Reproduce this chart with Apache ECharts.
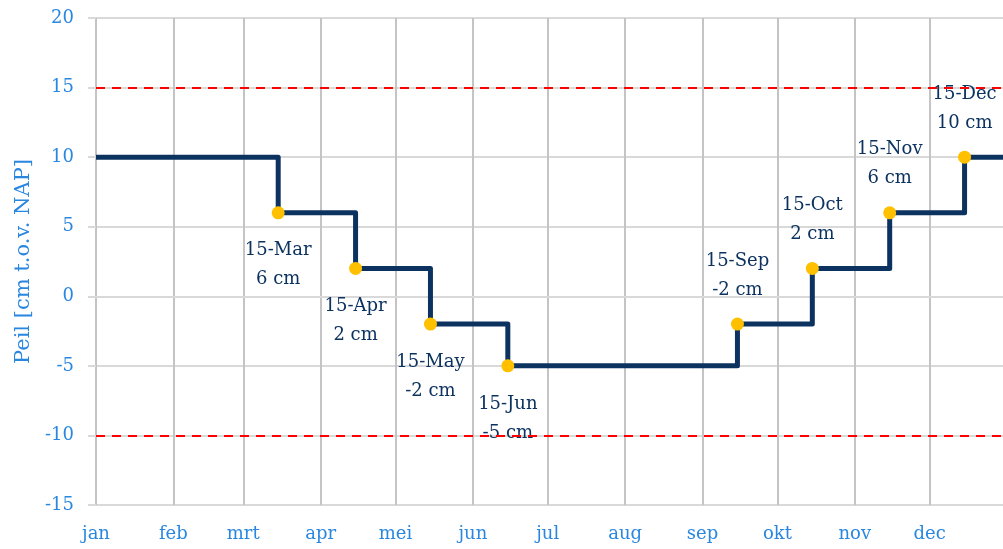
<!DOCTYPE html>
<html>
<head>
<meta charset="utf-8">
<script src="https://cdn.jsdelivr.net/npm/echarts@6/dist/echarts.min.js"></script>
<style>
  html, body { margin: 0; padding: 0; background: #fff; }
  #chart { width: 1003px; height: 549px; }
</style>
</head>
<body>
<div id="chart"></div>
<script>
// month names for the x axis (Dutch)
var monthNames = ['jan', 'feb', 'mrt', 'apr', 'mei', 'jun', 'jul', 'aug', 'sep', 'okt', 'nov', 'dec'];

// water level changes
var changeDates = ['2021-03-15', '2021-04-15', '2021-05-15', '2021-06-15', '2021-09-15', '2021-10-15', '2021-11-15', '2021-12-15'];
var changeLabels = ['15-Mar', '15-Apr', '15-May', '15-Jun', '15-Sep', '15-Oct', '15-Nov', '15-Dec'];
var levels = [6, 2, -2, -5, -2, 2, 6, 10];
var startLevel = 10;
var yearStart = '2021-01-01';
var yearEnd = '2022-01-01';

// limits (red dashed lines)
var upperLimit = 15;
var lowerLimit = -10;

var blue = '#2a87e0';
var navy = '#0c3260';
var font = 'DejaVu Serif';

var stepData = [[yearStart, startLevel]];
for (var i = 0; i < changeDates.length; i++) {
	stepData.push([changeDates[i], levels[i]]);
}
stepData.push([yearEnd, levels[levels.length - 1]]);

var pointData = [];
for (var j = 0; j < changeDates.length; j++) {
	var rising = j > 0 && levels[j] > levels[j - 1];
	pointData.push({
		value: [changeDates[j], levels[j]],
		name: changeLabels[j],
		label: { position: rising ? 'top' : 'bottom', distance: rising ? 13 : 17 }
	});
}

var chart = echarts.init(document.getElementById('chart'));
chart.setOption({
	animation: false,
	// plot runs a bit past the right edge of the window (full year)
	grid: { left: 96, width: 911, top: 18, bottom: 44, containLabel: false, outerBoundsMode: 'none' },
	xAxis: {
		type: 'time',
		min: yearStart,
		max: yearEnd,
		splitNumber: 12,
		minInterval: 28 * 86400000,
		maxInterval: 31 * 86400000,
		axisLine: { show: true, lineStyle: { color: '#d9d9d9', width: 2 } },
		axisTick: { show: false },
		splitLine: { show: true, lineStyle: { color: '#c4c4c4', width: 2 } },
		axisLabel: {
			color: blue, fontFamily: font, fontSize: 18, margin: 20,
			showMinLabel: true, showMaxLabel: false, hideOverlap: false,
			formatter: function (v) { return monthNames[new Date(v).getMonth()]; }
		}
	},
	yAxis: {
		type: 'value',
		min: -15,
		max: 20,
		interval: 5,
		name: 'Peil [cm t.o.v. NAP]',
		nameLocation: 'middle',
		nameGap: 60,
		nameTextStyle: { color: blue, fontFamily: font, fontSize: 21 },
		axisLine: { show: false },
		axisTick: { show: true, length: 8, lineStyle: { color: '#d9d9d9', width: 2 } },
		splitLine: { show: true, lineStyle: { color: '#d9d9d9', width: 2 } },
		axisLabel: { color: blue, fontFamily: font, fontSize: 18, margin: 22 }
	},
	series: [
		{
			type: 'line',
			step: 'end',
			data: stepData,
			showSymbol: false,
			lineStyle: { color: navy, width: 5, join: 'round' },
			z: 3,
			markLine: {
				silent: true,
				symbol: 'none',
				label: { show: false },
				lineStyle: { color: '#ff0000', type: [9, 7], width: 2 },
				data: [{ yAxis: upperLimit }, { yAxis: lowerLimit }]
			}
		},
		{
			type: 'scatter',
			data: pointData,
			symbolSize: 13,
			itemStyle: { color: '#ffc000', opacity: 1 },
			z: 4,
			label: {
				show: true,
				color: navy,
				fontFamily: font,
				fontSize: 18,
				lineHeight: 29,
				align: 'center',
				formatter: function (p) { return p.name + '\n' + p.value[1] + ' cm'; }
			}
		}
	]
});
</script>
</body>
</html>
